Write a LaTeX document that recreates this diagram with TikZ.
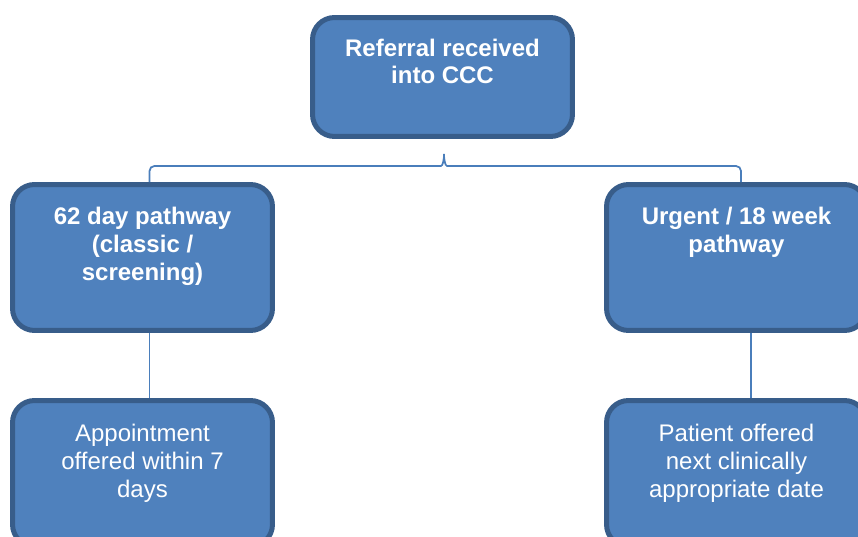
\documentclass[tikz,border=0pt]{standalone}
\usepackage{fontspec}
\setmainfont{Liberation Sans}
\usetikzlibrary{positioning, calc}
\definecolor{boxfill}{HTML}{4F81BD}
\definecolor{boxline}{HTML}{385D8A}
\definecolor{linkline}{HTML}{4A7EBB}

\begin{document}
\begin{tikzpicture}[x=0.02cm, y=-0.02cm,
    box/.style={draw=boxline, fill=boxfill, line width=0.1cm, rounded corners=0.44cm,
        minimum width=5.2cm, minimum height=2.92cm, inner sep=0},
    boxtext/.style={text=white, font=\fontsize{13.66pt}{15.93pt}\selectfont,
        align=center, anchor=base, inner sep=0},
    boldtext/.style={boxtext, font=\fontsize{13.66pt}{15.93pt}\selectfont\bfseries},
    link/.style={draw=linkline, line width=0.035cm}]
    \clip (0,0) rectangle (858,537);

    % boxes
    \node[box, minimum height=2.38cm] (ref) at (442.5, 77) {};
    \node[box] (p62) at (142.5, 257.5) {};
    \node[box] (urg) at (736.5, 257.5) {};
    \node[box] (appt) at (142.5, 473.5) {};
    \node[box] (pat) at (736.5, 473.5) {};

    % texts (placed at the baseline of their last line)
    \node[boldtext] (reftxt) at (442.5, 84) {Referral received\\into CCC};
    \node[boldtext] (p62txt) at (142.5, 280) {62 day pathway\\(classic /\\screening)};
    \node[boldtext] (urgtxt) at (736.5, 252) {Urgent / 18 week\\pathway};
    \node[boxtext] (appttxt) at (142.5, 497) {Appointment\\offered within 7\\days};
    \node[boxtext] (pattxt) at (736.5, 497) {Patient offered\\next clinically\\appropriate date};

    % brace under the referral box
    \coordinate (tip) at ($(ref.south)+(1.5, 12)$);
    \coordinate (bar) at ($(tip)+(0, 15)$);
    \draw[link, rounded corners=0.1cm]
        ([xshift=0.14cm]p62.north) |- ($(bar)+(-8, 0)$)
        .. controls ($(bar)+(-1, 0)$) and ($(tip)+(0, 7)$) .. (tip)
        .. controls ($(tip)+(0, 7)$) and ($(bar)+(1, 0)$) .. ($(bar)+(8, 0)$)
        -| ([xshift=0.09cm]urg.north);

    % connectors
    \draw[link] ([xshift=0.14cm]p62.south) -- ([xshift=0.14cm]appt.north);
    \draw[link] ([xshift=0.29cm]urg.south) -- ([xshift=0.29cm]pat.north);
\end{tikzpicture}
\end{document}
